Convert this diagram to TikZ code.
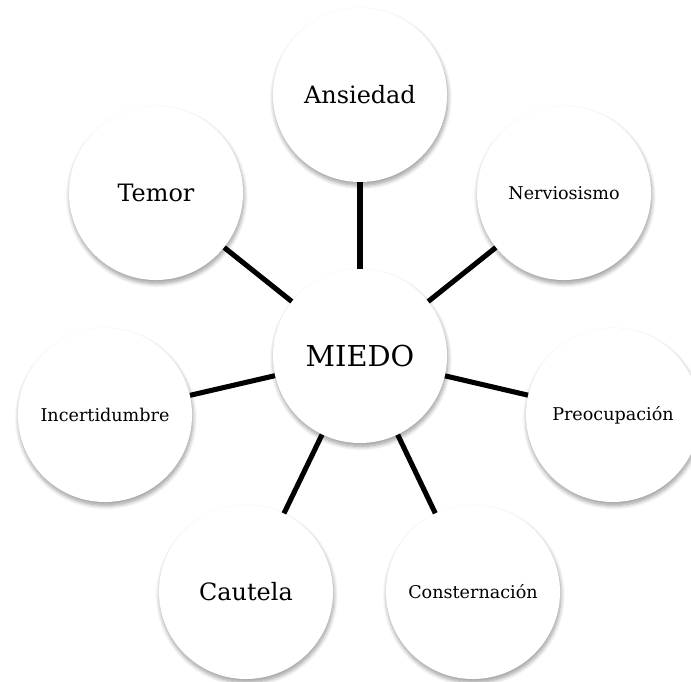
\documentclass[tikz,border=0pt]{standalone}
\usepackage{fontspec}
\setmainfont{DejaVu Serif}
\usetikzlibrary{shadows.blur}

\tikzset{
  bubble/.style={circle, fill=white, minimum size=4.35cm, inner sep=0pt,
    blur shadow={shadow xshift=0.6pt, shadow yshift=-2.4pt,
      shadow blur radius=3pt, shadow blur steps=8, shadow opacity=40}},
  link/.style={line width=3.6pt, black}
}

\begin{document}
\begin{tikzpicture}[x=0.025cm, y=-0.025cm]
    \useasboundingbox (0,0) rectangle (691,682);

    % Centre
    \node[bubble, font=\fontsize{20.5}{24}\selectfont] (miedo) at (360,356) {MIEDO};

    % Surrounding feelings
    \node[bubble, font=\fontsize{17}{20}\selectfont] (ansiedad) at (360,95) {Ansiedad};
    \node[bubble, font=\fontsize{17}{20}\selectfont] (temor) at (156,193) {Temor};
    \node[bubble, font=\fontsize{12.5}{15}\selectfont] (nervios) at (564,193) {Nerviosismo};
    \node[bubble, font=\fontsize{12.5}{15}\selectfont] (incert) at (105,415) {Incertidumbre};
    \node[bubble, font=\fontsize{12.5}{15}\selectfont] (preocup) at (613,415) {Preocupación};
    \node[bubble, font=\fontsize{17}{20}\selectfont] (cautela) at (246,592) {Cautela};
    \node[bubble, font=\fontsize{12.5}{15}\selectfont] (conster) at (473,592) {Consternación};

    % Links
    \draw[link] (miedo) -- (ansiedad);
    \draw[link] (miedo) -- (temor);
    \draw[link] (miedo) -- (nervios);
    \draw[link] (miedo) -- (incert);
    \draw[link] (miedo) -- (preocup);
    \draw[link] (miedo) -- (cautela);
    \draw[link] (miedo) -- (conster);
\end{tikzpicture}
\end{document}
